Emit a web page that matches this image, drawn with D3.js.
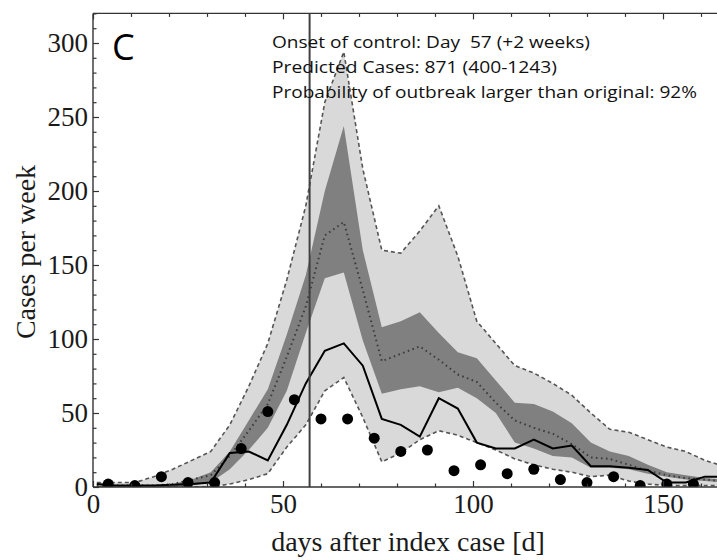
<!DOCTYPE html>
<html><head><meta charset="utf-8">
<script src="https://cdn.jsdelivr.net/npm/d3@7"></script>
<style>body{margin:0;background:#fff} svg{display:block}</style>
</head><body><svg id="c" width="717" height="560"></svg>
<script>
// ---- data ----
const simDays  = [1,6,11,16,21,26,31,36,41,46,51,56,61,66,71,76,81,86,91,96,101,106,111,116,121,126,131,136,141,146,151,156,161,166];
const upper95  = [3,3,3,7,12,18,24,42,68,97,140,190,260,294,215,160,158,173,190,156,112,97,82,77,70,62,50,39,37,32,27,24,18,14];
const upper75  = [1,1,1,1,2,5,10,24,45,66,103,143,200,244,160,108,112,118,104,91,87,72,57,56,51,43,30,24,21,15,10,8,6,5];
const median   = [1,1,1,1,2,5,8,21,38,56,88,122,170,179,133,85,90,95,86,76,71,57,45,40,36,29,20,19,15,11,8,6,5,4];
const lower25  = [0,0,0,0,0,1,3,12,25,40,65,104,141,145,99,63,66,68,64,67,60,50,30,26,21,20,13,13,12,9,7,5,4,3];
const lower95  = [0,0,0,0,0,0,0,2,5,9,27,42,65,74,47,17,23,32,38,35,30,25,19,15,12,10,7,8,4,2,1,1,1,1];
const original = [2,1,1,1,1.5,2,3,23,24,18,42,70,92,97,82,46,42,34,60,53,30,26,26,32,26,28,14,14,13,11.5,3,3,7,7];
const obsDays  = [4,11,18,25,32,39,46,53,60,67,74,81,88,95,102,109,116,123,130,137,144,151,158];
const obsCases = [2,1,7,3,3,26,51,59,46,46,33,24,25,11,15,9,12,5,3,7,1,2,2];
const controlDay = 57;
const xTickLabels = [0,50,100,150];
const yTickLabels = [0,50,100,150,200,250,300];
const panelLabel = "C";
const infoLines = ["Onset of control: Day  57 (+2 weeks)", "Predicted Cases: 871 (400-1243)", "Probability of outbreak larger than original: 92%"];
const xTitle = "days after index case [d]";
const yTitle = "Cases per week";

// ---- layout ----
const L = 93, R = 717, T = 13.4, B = 487;
const svg = d3.select("#c");
const x = d3.scaleLinear().domain([0, (R - L) / 3.8]).range([L, R]);
const y = d3.scaleLinear().domain([0, 320]).range([B, T]);

svg.append("defs").append("clipPath").attr("id","clip")
  .append("rect").attr("x",L).attr("y",T).attr("width",R-L).attr("height",B-T);
const g = svg.append("g").attr("clip-path","url(#clip)");

const rows = simDays.map((d,i)=>({d, u95:upper95[i], u75:upper75[i], m:median[i], l25:lower25[i], l95:lower95[i], o:original[i]}));

const area = (lo, hi) => d3.area().x(r=>x(r.d)).y0(r=>y(r[lo])).y1(r=>y(r[hi]));
const line = key => d3.line().x(r=>x(r.d)).y(r=>y(r[key]));

g.append("path").datum(rows).attr("d", area("l95","u95")).attr("fill","#d9d9d9");
g.append("path").datum(rows).attr("d", area("l25","u75")).attr("fill","#808080");
["u95","l95"].forEach(k=>{
  g.append("path").datum(rows).attr("d", line(k)).attr("fill","none")
   .attr("stroke","#555").attr("stroke-width",1.6).attr("stroke-dasharray","4,3");
});
g.append("path").datum(rows).attr("d", line("m")).attr("fill","none")
  .attr("stroke","#3c3c3c").attr("stroke-width",2).attr("stroke-dasharray","1.6,3.4");
g.append("path").datum(rows).attr("d", line("o")).attr("fill","none")
  .attr("stroke","#000").attr("stroke-width",2).attr("stroke-linejoin","miter");

g.append("line").attr("x1",x(controlDay)).attr("x2",x(controlDay)).attr("y1",T).attr("y2",B)
  .attr("stroke","#404040").attr("stroke-width",2);

g.selectAll("circle.obs").data(obsDays).enter().append("circle")
  .attr("cx",d=>x(d)).attr("cy",(d,i)=>y(obsCases[i])).attr("r",5.5).attr("fill","#000");

// ---- axes ----
const axCol = "#333";
function styleAxis(sel){
  sel.select(".domain").remove();
  sel.selectAll("line").attr("stroke",axCol).attr("stroke-width",1.2);
  sel.selectAll("text").attr("font-family","'Liberation Serif', 'DejaVu Serif', serif")
     .attr("font-size",27).attr("fill","#1a1a1a");
}
const xMinor = d3.range(0, 165, 10).filter(v=>v%50!==0);
const yMinor = d3.range(0, 321, 10).filter(v=>v%50!==0);

svg.append("g").attr("transform",`translate(0,${B})`)
  .call(d3.axisBottom(x).tickValues(xTickLabels).tickSize(-6).tickPadding(7).tickFormat(d3.format("d"))).call(styleAxis);
svg.append("g").attr("transform",`translate(0,${B})`)
  .call(d3.axisBottom(x).tickValues(xMinor).tickSize(-3.5).tickFormat("")).call(styleAxis);
svg.append("g").attr("transform",`translate(0,${T})`)
  .call(d3.axisTop(x).tickValues(xTickLabels).tickSize(-6).tickFormat("")).call(styleAxis);
svg.append("g").attr("transform",`translate(0,${T})`)
  .call(d3.axisTop(x).tickValues(xMinor).tickSize(-3.5).tickFormat("")).call(styleAxis);
svg.append("g").attr("transform",`translate(${L},0)`)
  .call(d3.axisLeft(y).tickValues(yTickLabels).tickSize(-6).tickPadding(5).tickFormat(d3.format("d"))).call(styleAxis);
svg.append("g").attr("transform",`translate(${L},0)`)
  .call(d3.axisLeft(y).tickValues(yMinor).tickSize(-3.5).tickFormat("")).call(styleAxis);

// frame lines
svg.append("line").attr("x1",L).attr("x2",R).attr("y1",B).attr("y2",B).attr("stroke",axCol).attr("stroke-width",1.4);
svg.append("line").attr("x1",L).attr("x2",R).attr("y1",T).attr("y2",T).attr("stroke",axCol).attr("stroke-width",1.4);
svg.append("line").attr("x1",L).attr("x2",L).attr("y1",T).attr("y2",B).attr("stroke",axCol).attr("stroke-width",1.4);

// titles
svg.append("text").attr("x",408).attr("y",551).attr("text-anchor","middle")
  .attr("font-family","'Liberation Serif', serif").attr("font-size",28).attr("fill","#1a1a1a").text(xTitle);
svg.append("text").attr("transform","translate(35,252) rotate(-90)").attr("text-anchor","middle")
  .attr("font-family","'Liberation Serif', serif").attr("font-size",28).attr("fill","#1a1a1a").text(yTitle);

// panel label & annotations
svg.append("text").attr("x",112).attr("y",60).attr("font-family","'Open Sans', sans-serif")
  .attr("font-size",36).attr("fill","#000").text(panelLabel);
const infoW = [318, 285, 425];
infoLines.forEach((t,i)=>{
  svg.append("text").attr("x",272).attr("y",48 + i*25).attr("font-family","'Open Sans', sans-serif")
    .attr("font-size",17).attr("fill","#111").style("white-space","pre")
    .attr("textLength",infoW[i]).attr("lengthAdjust","spacingAndGlyphs").text(t);
});
</script></body></html>
